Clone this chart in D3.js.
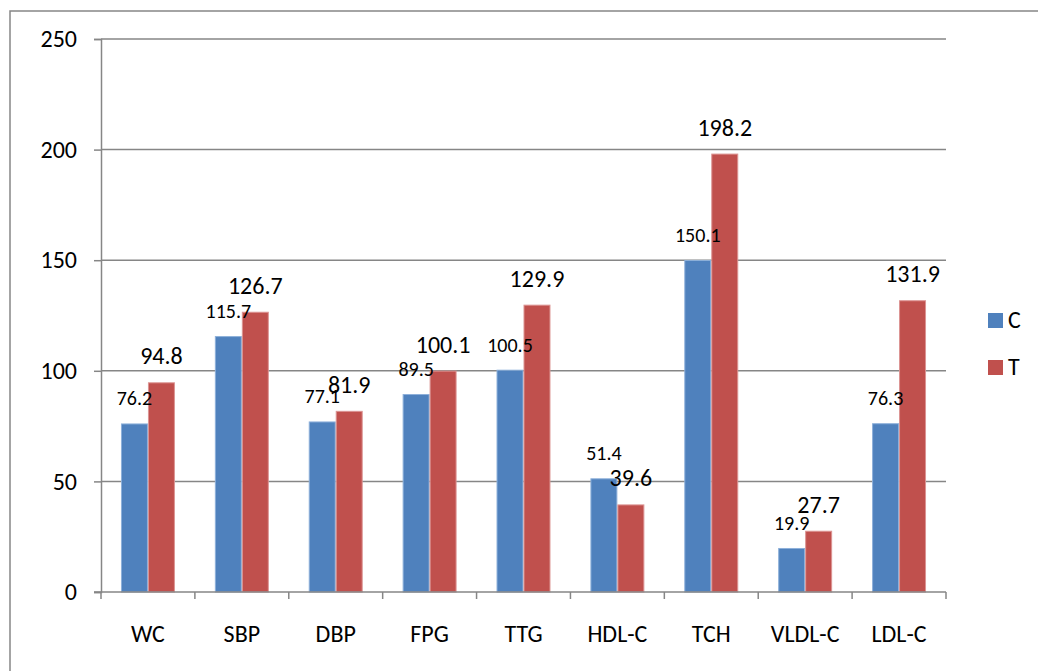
<!DOCTYPE html>
<html>
<head>
<meta charset="utf-8">
<script src="https://cdn.jsdelivr.net/npm/d3@7"></script>
<style>
  html, body { margin: 0; padding: 0; background: #fff; }
  svg { display: block; }
  text { font-family: Carlito, Calibri, "Open Sans", sans-serif; fill: #000; }
</style>
</head>
<body>
<svg id="chart" width="1038" height="671"></svg>
<script>
const categories = ["WC", "SBP", "DBP", "FPG", "TTG", "HDL-C", "TCH", "VLDL-C", "LDL-C"];
const seriesNames = ["C", "T"];
const valuesC = [76.2, 115.7, 77.1, 89.5, 100.5, 51.4, 150.1, 19.9, 76.3];
const valuesT = [94.8, 126.7, 81.9, 100.1, 129.9, 39.6, 198.2, 27.7, 131.9];
const yTicks = [0, 50, 100, 150, 200, 250];
const colors = { C: "#4F81BD", T: "#C0504D" };
const edgeColors = { C: "#8DB0DA", T: "#DC9493" };

const svg = d3.select("#chart");
const gridColor = "#868686";
const fontFam = "Carlito, Calibri, 'Open Sans', sans-serif";

// outer chart border
svg.append("rect")
  .attr("x", 10).attr("y", 11)
  .attr("width", 1040).attr("height", 680)
  .attr("fill", "none").attr("stroke", gridColor).attr("stroke-width", 1.5);

const plotLeft = 101, plotRight = 946, plotTop = 39, plotBottom = 592;

const x = d3.scaleBand().domain(categories).range([plotLeft, plotRight]).paddingInner(0).paddingOuter(0);
const xs = d3.scaleBand().domain(seriesNames).range([0, x.bandwidth()]).paddingInner(0).paddingOuter(0.74);
const y = d3.scaleLinear().domain([0, 250]).range([plotBottom, plotTop]);

// gridlines
svg.append("g").selectAll("line").data(yTicks.filter(d => d > 0)).join("line")
  .attr("x1", plotLeft).attr("x2", plotRight)
  .attr("y1", d => y(d)).attr("y2", d => y(d))
  .attr("stroke", gridColor).attr("stroke-width", 1.5);

// y axis
const yAxis = svg.append("g").attr("transform", `translate(${plotLeft},0)`)
  .call(d3.axisLeft(y).tickValues(yTicks).tickSize(7).tickPadding(17).tickFormat(d3.format("d")));
yAxis.select(".domain").attr("stroke", gridColor).attr("stroke-width", 1.5);
yAxis.selectAll(".tick line").attr("stroke", gridColor).attr("stroke-width", 1.5);
yAxis.selectAll(".tick text").attr("font-size", 24).attr("font-family", fontFam).attr("fill", "#000");

// bars
const data = categories.map((c, i) => ({ cat: c, C: valuesC[i], T: valuesT[i] }));
const groups = svg.append("g").selectAll("g").data(data).join("g")
  .attr("transform", d => `translate(${x(d.cat)},0)`);

groups.selectAll("rect").data(d => seriesNames.map(s => ({ s, v: d[s] }))).join("rect")
  .attr("x", d => xs(d.s) + 0.5)
  .attr("width", xs.bandwidth() - 1)
  .attr("y", d => y(d.v) + 0.5)
  .attr("height", d => y(0) - y(d.v) - 0.5)
  .attr("fill", d => colors[d.s])
  .attr("stroke", d => edgeColors[d.s])
  .attr("stroke-width", 1);

// x axis baseline + boundary ticks
svg.append("line")
  .attr("x1", plotLeft - 7).attr("x2", plotRight)
  .attr("y1", y(0)).attr("y2", y(0))
  .attr("stroke", gridColor).attr("stroke-width", 1.5);
const boundaries = d3.range(categories.length + 1);
svg.append("g").selectAll("line").data(boundaries).join("line")
  .attr("x1", i => plotLeft + i * x.step()).attr("x2", i => plotLeft + i * x.step())
  .attr("y1", y(0)).attr("y2", y(0) + 7)
  .attr("stroke", gridColor).attr("stroke-width", 1.5);

const xAxis = svg.append("g").attr("transform", `translate(0,${plotBottom})`)
  .call(d3.axisBottom(x).tickSize(0).tickPadding(33));
xAxis.select(".domain").remove();
xAxis.selectAll(".tick text").attr("font-size", 24).attr("font-family", fontFam).attr("fill", "#000");

// data labels
groups.selectAll("text.lbl").data(d => seriesNames.map(s => ({ s, v: d[s] }))).join("text")
  .attr("class", "lbl")
  .attr("x", d => xs(d.s) + xs.bandwidth() / 2)
  .attr("y", d => y(d.v) - 18)
  .attr("text-anchor", "middle")
  .attr("font-size", d => d.s === "C" ? 20 : 24)
  .text(d => d3.format(".1f")(d.v));

// legend
const legend = svg.append("g").selectAll("g").data(seriesNames).join("g")
  .attr("transform", (d, i) => `translate(988,${313 + i * 47})`);
legend.append("rect").attr("width", 15).attr("height", 15).attr("fill", d => colors[d]);
legend.append("text").attr("x", 20).attr("y", 15).attr("font-size", 24).text(d => d);
</script>
</body>
</html>
